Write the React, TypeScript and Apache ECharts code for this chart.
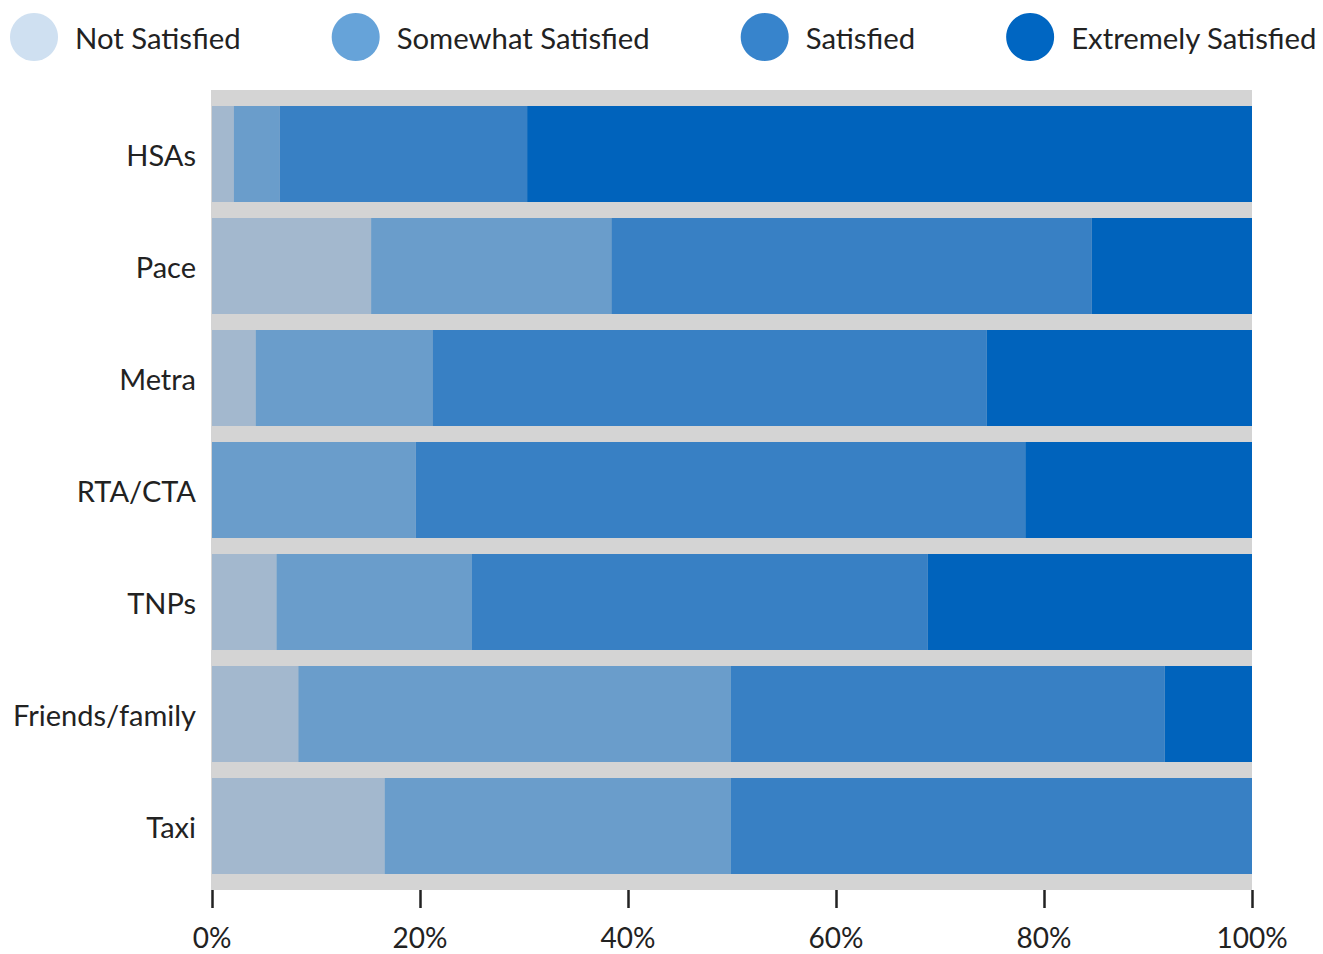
import React, { useEffect, useRef } from "react";
import * as echarts from "echarts";

const categories = ["HSAs", "Pace", "Metra", "RTA/CTA", "TNPs", "Friends/family", "Taxi"];
const seriesNames = ["Not Satisfied", "Somewhat Satisfied", "Satisfied", "Extremely Satisfied"];
const notSatisfied = [2.1, 15.3, 4.2, 0, 6.2, 8.3, 16.6];
const somewhatSatisfied = [4.4, 23.1, 17.0, 19.6, 18.8, 41.6, 33.3];
const satisfied = [23.8, 46.2, 53.3, 58.6, 43.8, 41.7, 50.1];
const extremelySatisfied = [69.7, 15.4, 25.5, 21.8, 31.2, 8.4, 0];
const xTicks = [0, 20, 40, 60, 80, 100];

const barColors = ["#a3b8ce", "#6a9dcb", "#3880c4", "#0063bc"];
const legendColors = ["#cfe0f1", "#66a3d9", "#3784cc", "#0066c2"];

const FONT = "Lato";

export default function App() {
  const ref = useRef<HTMLDivElement>(null);
  useEffect(() => {
    if (!ref.current) return;
    const chart = echarts.init(ref.current, null, { renderer: "svg" });
    const values = [notSatisfied, somewhatSatisfied, satisfied, extremelySatisfied];
    chart.setOption({
      animation: false,
      backgroundColor: "#ffffff",
      textStyle: { fontFamily: FONT },
      legend: {
        left: 10,
        top: 13,
        padding: 0,
        itemGap: 91,
        itemWidth: 48,
        itemHeight: 48,
        icon: "circle",
        textStyle: { fontSize: 29.3, color: "#222", fontFamily: FONT, padding: [0, 0, 0, 12] },
        data: seriesNames.map((n, i) => ({ name: n, itemStyle: { color: legendColors[i] } })),
      },
      grid: { left: 212, right: 71, top: 98, height: 784, containLabel: false },
      graphic: [
        {
          type: "rect",
          z: -10,
          shape: { x: 211, y: 90, width: 1041, height: 800 },
          style: { fill: "#d4d4d4" },
          silent: true,
        },
      ],
      xAxis: {
        type: "value",
        min: xTicks[0],
        max: xTicks[xTicks.length - 1],
        interval: 20,
        offset: 8,
        splitLine: { show: false },
        axisLine: { show: false },
        axisTick: { show: true, length: 18, lineStyle: { color: "#222", width: 2.5 } },
        axisLabel: {
          formatter: "{value}%",
          fontSize: 28,
          color: "#222",
          margin: 33,
          fontFamily: FONT,
        },
      },
      yAxis: {
        type: "category",
        inverse: true,
        data: categories,
        axisLine: { show: false },
        axisTick: { show: false },
        axisLabel: {
          fontSize: 29,
          color: "#222",
          margin: 16,
          fontFamily: FONT,
        },
      },
      series: seriesNames.map((n, i) => ({
        name: n,
        type: "bar",
        stack: "total",
        barWidth: 96,
        data: values[i],
        itemStyle: { color: barColors[i] },
        emphasis: { disabled: true },
      })),
    });
    return () => chart.dispose();
  }, []);
  return (
    <div
      ref={ref}
      style={{ position: "absolute", left: 0, top: 0, width: 1323, height: 954 }}
    />
  );
}
